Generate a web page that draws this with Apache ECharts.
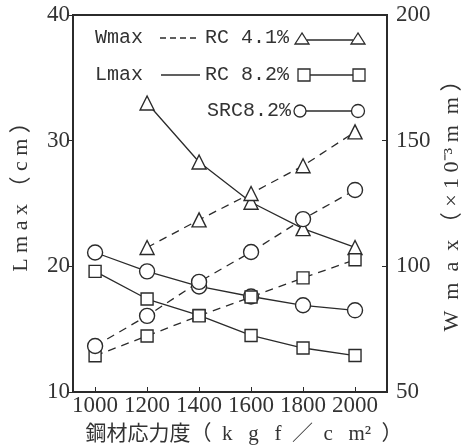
<!DOCTYPE html>
<html>
<head>
<meta charset="utf-8">
<script src="https://cdn.jsdelivr.net/npm/echarts@6/dist/echarts.min.js"></script>
<style>
  html, body { margin: 0; padding: 0; background: #fff; }
  #chart { width: 467px; height: 447px; }
</style>
</head>
<body>
<div id="chart"></div>
<script>
// steel stress (kgf/cm2)
var stress = [1000, 1200, 1400, 1600, 1800, 2000];
var xTicks = [1000, 1200, 1400, 1600, 1800, 2000];

// Lmax (cm), left axis
var lmaxRC41 = [null, 33.0, 28.3, 25.1, 23.0, 21.5];
var lmaxRC82 = [19.6, 17.4, 16.1, 14.5, 13.5, 12.9];
var lmaxSRC82 = [21.1, 19.6, 18.4, 17.6, 16.9, 16.5];

// Wmax (x10^-3 mm), right axis
var wmaxRC41 = [null, 107.5, 118.5, 129, 140, 153.5];
var wmaxRC82 = [64.4, 72.3, 80.3, 87.8, 95.4, 102.6];
var wmaxSRC82 = [68.3, 80.3, 93.8, 105.7, 118.8, 130.4];

var ink = '#2b2b2b';
var serif = '"Liberation Serif", "Noto Sans CJK JP", serif';
var mono = '"Liberation Mono", monospace';

function pairs(ys) {
  return stress.map(function (x, i) { return ys[i] == null ? null : [x, ys[i]]; })
    .filter(function (p) { return p; });
}

function makeSeries(name, ys, axis, symbol, size, dashed) {
  return {
    name: name,
    type: 'line',
    yAxisIndex: axis,
    data: pairs(ys),
    symbol: symbol,
    symbolSize: size,
    showAllSymbol: true,
    lineStyle: { color: ink, width: 1.3, type: dashed ? [8, 6] : 'solid' },
    itemStyle: { color: '#fff', borderColor: ink, borderWidth: 1.4 },
    emphasis: { disabled: true },
    silent: true,
    z: 2
  };
}

var chart = echarts.init(document.getElementById('chart'));

var option = {
  backgroundColor: '#fff',
  animation: false,
  grid: {
    left: 73, right: 80, top: 15, bottom: 55,
    outerBoundsMode: 'none',
    show: true, borderColor: ink, borderWidth: 2
  },
  xAxis: {
    type: 'value',
    min: 915,
    max: 2123,
    axisLine: { lineStyle: { color: ink, width: 2 } },
    axisTick: { inside: true, length: 5, customValues: xTicks, lineStyle: { color: ink } },
    axisLabel: {
      customValues: xTicks, fontFamily: serif, fontSize: 23, color: '#333', margin: 2,
      showMinLabel: true, showMaxLabel: true, hideOverlap: false,
      formatter: function (v) { return String(v); }
    },
    splitLine: { show: false },
    name: '鋼材応力度（  k   g   f  ／  c   m²  ）',
    nameLocation: 'middle',
    nameGap: 32,
    nameTextStyle: { fontFamily: serif, fontSize: 21, color: '#333', padding: [0, 0, 0, 28] }
  },
  yAxis: [{
    type: 'value',
    min: 10,
    max: 40,
    interval: 10,
    axisLine: { show: true, lineStyle: { color: ink, width: 2 } },
    axisTick: { show: true, inside: false, length: 5, lineStyle: { color: ink } },
    axisLabel: { fontFamily: serif, fontSize: 23, color: '#333', margin: 3 },
    splitLine: { show: false },
    name: 'L m a x （ c m ）',
    nameLocation: 'middle',
    nameGap: 41,
    nameTextStyle: { fontFamily: serif, fontSize: 22, color: '#333', padding: [0, 0, 0, 24] }
  }, {
    type: 'value',
    min: 50,
    max: 200,
    interval: 50,
    position: 'right',
    axisLine: { show: true, lineStyle: { color: ink, width: 2 } },
    axisTick: { show: true, inside: true, length: 5, lineStyle: { color: ink } },
    axisLabel: { fontFamily: serif, fontSize: 23, color: '#333', margin: 9 },
    splitLine: { show: false },
    name: 'W  m  a  x （ × 1 0⁻³ m  m ）',
    nameLocation: 'middle',
    nameGap: 51,
    nameTextStyle: { fontFamily: serif, fontSize: 22, color: '#333', padding: [0, 0, 0, 6] }
  }],
  graphic: [
    { type: 'text', x: 95, y: 38, style: { text: 'Wmax', font: '20px ' + mono, fill: '#333', verticalAlign: 'middle' } },
    { type: 'line', shape: { x1: 160, y1: 38, x2: 197, y2: 38 }, style: { stroke: ink, lineWidth: 1.3, lineDash: [6, 4] } },
    { type: 'text', x: 205, y: 38, style: { text: 'RC 4.1%', font: '20px ' + mono, fill: '#333', verticalAlign: 'middle' } },
    { type: 'line', shape: { x1: 307, y1: 40, x2: 353, y2: 40 }, style: { stroke: ink, lineWidth: 1.3 } },
    { type: 'polygon', shape: { points: [[302, 33], [295, 44], [309, 44]] }, style: { fill: '#fff', stroke: ink, lineWidth: 1.3 } },
    { type: 'polygon', shape: { points: [[358, 33], [351, 44], [365, 44]] }, style: { fill: '#fff', stroke: ink, lineWidth: 1.3 } },

    { type: 'text', x: 95, y: 75, style: { text: 'Lmax', font: '20px ' + mono, fill: '#333', verticalAlign: 'middle' } },
    { type: 'line', shape: { x1: 161, y1: 75, x2: 200, y2: 75 }, style: { stroke: ink, lineWidth: 1.3 } },
    { type: 'text', x: 205, y: 75, style: { text: 'RC 8.2%', font: '20px ' + mono, fill: '#333', verticalAlign: 'middle' } },
    { type: 'line', shape: { x1: 310, y1: 75, x2: 353, y2: 75 }, style: { stroke: ink, lineWidth: 1.3 } },
    { type: 'rect', shape: { x: 298, y: 69, width: 12, height: 12 }, style: { fill: '#fff', stroke: ink, lineWidth: 1.3 } },
    { type: 'rect', shape: { x: 353, y: 69, width: 12, height: 12 }, style: { fill: '#fff', stroke: ink, lineWidth: 1.3 } },

    { type: 'text', x: 207, y: 111, style: { text: 'SRC8.2%', font: '20px ' + mono, fill: '#333', verticalAlign: 'middle' } },
    { type: 'line', shape: { x1: 306, y1: 111, x2: 352, y2: 111 }, style: { stroke: ink, lineWidth: 1.3 } },
    { type: 'circle', shape: { cx: 300, cy: 111, r: 6 }, style: { fill: '#fff', stroke: ink, lineWidth: 1.3 } },
    { type: 'circle', shape: { cx: 358, cy: 111, r: 6.5 }, style: { fill: '#fff', stroke: ink, lineWidth: 1.3 } }
  ],
  series: [
    makeSeries('Lmax RC 4.1%', lmaxRC41, 0, 'triangle', 14, false),
    makeSeries('Lmax RC 8.2%', lmaxRC82, 0, 'rect', 12, false),
    makeSeries('Lmax SRC8.2%', lmaxSRC82, 0, 'circle', 15, false),
    makeSeries('Wmax RC 4.1%', wmaxRC41, 1, 'triangle', 14, true),
    makeSeries('Wmax RC 8.2%', wmaxRC82, 1, 'rect', 12, true),
    makeSeries('Wmax SRC8.2%', wmaxSRC82, 1, 'circle', 15, true)
  ]
};

chart.setOption(option);
</script>
</body>
</html>
